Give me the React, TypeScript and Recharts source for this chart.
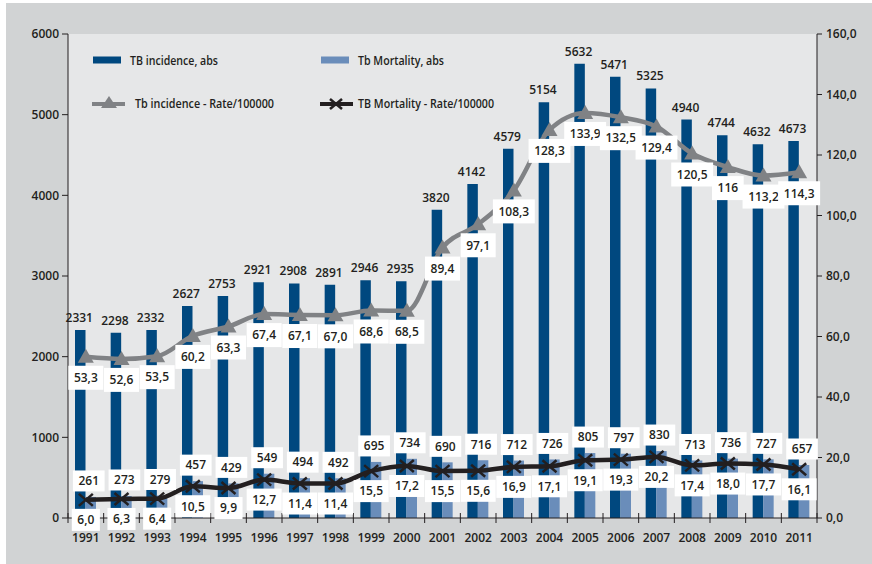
import React from 'react';
import { ComposedChart, Bar, Line, XAxis, YAxis, CartesianGrid, LabelList, Legend } from 'recharts';

const years = ['1991','1992','1993','1994','1995','1996','1997','1998','1999','2000','2001','2002','2003','2004','2005','2006','2007','2008','2009','2010','2011'];
const incidenceAbs = [2331, 2298, 2332, 2627, 2753, 2921, 2908, 2891, 2946, 2935, 3820, 4142, 4579, 5154, 5632, 5471, 5325, 4940, 4744, 4632, 4673];
const mortalityAbs = [261, 273, 279, 457, 429, 549, 494, 492, 695, 734, 690, 716, 712, 726, 805, 797, 830, 713, 736, 727, 657];
const incidenceRateText = ['53,3','52,6','53,5','60,2','63,3','67,4','67,1','67,0','68,6','68,5','89,4','97,1','108,3','128,3','133,9','132,5','129,4','120,5','116','113,2','114,3'];
const mortalityRateText = ['6,0','6,3','6,4','10,5','9,9','12,7','11,4','11,4','15,5','17,2','15,5','15,6','16,9','17,1','19,1','19,3','20,2','17,4','18,0','17,7','16,1'];
const leftTicks = [0, 1000, 2000, 3000, 4000, 5000, 6000];
const rightTicks = [0, 20, 40, 60, 80, 100, 120, 140, 160];

const parseNum = (s: string) => parseFloat(s.replace(',', '.'));

const data = years.map((y, i) => ({
  year: y,
  incAbs: incidenceAbs[i],
  mortAbs: mortalityAbs[i],
  incRate: parseNum(incidenceRateText[i]),
  incRateLabel: incidenceRateText[i],
  mortRate: parseNum(mortalityRateText[i]),
  mortRateLabel: mortalityRateText[i],
}));

const W = 866;
const H = 561;
const LEFT_W = 62;
const RIGHT_W = 55;
const BAND = (W - LEFT_W - RIGHT_W) / years.length;

const FONT = "'Open Sans', 'Noto Sans', sans-serif";
const FS = 12;
const TXT = '#231f20';
const DARK = '#00487f';
const LIGHT = '#6a8dba';
const GRAY = '#808285';
const BLACK = '#231f20';

const textW = (s: string) => {
  let w = 0;
  for (const c of s) w += c === ',' ? 3.3 : 6.9;
  return w;
};

const Box = ({ cx, cy, text, h }: { cx: number; cy: number; text: string; h: number }) => {
  const w = textW(text) + 11;
  return (
    <g>
      <rect x={cx - w / 2} y={cy - h / 2} width={w} height={h} fill="#ffffff" />
      <text x={cx} y={cy + 4.3} textAnchor="middle" fontSize={FS} fontWeight={600} fill={TXT} fontFamily={FONT}>
        {text}
      </text>
    </g>
  );
};

const IncAbsLabel = (p: any) => (
  <text x={p.x + p.width / 2 - 1} y={p.y - 8} textAnchor="middle" fontSize={FS} fontWeight={600} fill={TXT} fontFamily={FONT}>
    {p.value}
  </text>
);

const MortAbsLabel = (p: any) => <Box cx={p.x + p.width / 2 - 2} cy={p.y - 16} text={String(p.value)} h={21} />;

const IncRateLabel = (p: any) => <Box cx={p.x} cy={p.y + 21} text={String(p.value)} h={24} />;
const MortRateLabel = (p: any) => <Box cx={p.x} cy={p.y + 20} text={String(p.value)} h={22} />;

const Triangle = (p: any) => {
  const { cx, cy, index } = p;
  if (cx == null || cy == null) return <g key={`t${index}`} />;
  return <path key={`t${index}`} d={`M${cx},${cy - 8} L${cx + 8},${cy + 6} L${cx - 8},${cy + 6} Z`} fill={GRAY} />;
};

const Cross = (p: any) => {
  const { cx, cy, index } = p;
  if (cx == null || cy == null) return <g key={`x${index}`} />;
  return (
    <g key={`x${index}`}>
      <line x1={cx - 7} y1={cy - 6} x2={cx + 7} y2={cy + 6} stroke={BLACK} strokeWidth={2.5} />
      <line x1={cx - 7} y1={cy + 6} x2={cx + 7} y2={cy - 6} stroke={BLACK} strokeWidth={2.5} />
    </g>
  );
};

const YearTick = (p: any) => {
  const { x, y, payload, index } = p;
  return (
    <g>
      <line x1={x - BAND / 2} y1={y - 5} x2={x - BAND / 2} y2={y + 5} stroke={TXT} strokeWidth={1} />
      {index === years.length - 1 && (
        <line x1={x + BAND / 2} y1={y - 5} x2={x + BAND / 2} y2={y + 5} stroke={TXT} strokeWidth={1} />
      )}
      <text x={x} y={y + 24} textAnchor="middle" fontSize={FS} fontWeight={600} fill={TXT} fontFamily={FONT}>
        {payload.value}
      </text>
    </g>
  );
};

const legendText = { fontSize: 12.5, fontWeight: 600, fill: TXT, fontFamily: FONT, lengthAdjust: 'spacingAndGlyphs' } as const;

const LegendContent = () => (
  <svg width={W} height={120} style={{ display: 'block' }}>
    <rect x={87} y={53.5} width={28} height={7} fill={DARK} />
    <text x={124} y={61.5} textLength={88} {...legendText}>TB incidence, abs</text>
    <rect x={315} y={53.5} width={28} height={7} fill={LIGHT} />
    <text x={352} y={61.5} textLength={86} {...legendText}>Tb Mortality, abs</text>

    <line x1={86} y1={101} x2={119} y2={101} stroke={GRAY} strokeWidth={4} />
    <path d="M103,93 L111,105 L95,105 Z" fill={GRAY} />
    <text x={129} y={104.5} textLength={139} {...legendText}>Tb incidence - Rate/100000</text>
    <line x1={314} y1={101} x2={347} y2={101} stroke={BLACK} strokeWidth={4} />
    <line x1={324} y1={96} x2={336} y2={106} stroke={BLACK} strokeWidth={2.5} />
    <line x1={324} y1={106} x2={336} y2={96} stroke={BLACK} strokeWidth={2.5} />
    <text x={352} y={104.5} textLength={136} {...legendText}>TB Mortality - Rate/100000</text>
  </svg>
);

export default function App() {
  return (
    <div style={{ position: 'absolute', left: 6, top: 3, width: W, height: H, background: '#d1d3d4' }}>
      <ComposedChart
        width={W}
        height={H}
        data={data}
        margin={{ top: 31, right: 0, bottom: 16, left: 0 }}
        barGap={0}
        barSize={10.5}
        style={{ fontFamily: FONT }}
      >
        <CartesianGrid fill="#e6e7e8" horizontal={false} vertical={false} />
        <XAxis
          dataKey="year"
          height={30}
          tickSize={0}
          tickMargin={0}
          tickLine={false}
          tick={<YearTick />}
          axisLine={{ stroke: TXT, strokeWidth: 1 }}
          interval={0}
        />
        <YAxis
          yAxisId="left"
          width={LEFT_W}
          domain={[0, 6000]}
          ticks={leftTicks}
          tickSize={6}
          tickMargin={3}
          axisLine={{ stroke: TXT, strokeWidth: 1 }}
          tickLine={{ stroke: TXT, strokeWidth: 1 }}
          tick={{ fontSize: FS, fontWeight: 600, fill: TXT, fontFamily: FONT }}
        />
        <YAxis
          yAxisId="right"
          orientation="right"
          width={RIGHT_W}
          domain={[0, 160]}
          ticks={rightTicks}
          tickFormatter={(v: number) => v.toFixed(1).replace('.', ',')}
          tickSize={5}
          tickMargin={4}
          axisLine={{ stroke: TXT, strokeWidth: 1 }}
          tickLine={{ stroke: TXT, strokeWidth: 1 }}
          tick={{ fontSize: FS, fontWeight: 600, fill: TXT, fontFamily: FONT }}
        />
        <Legend
          layout="vertical"
          verticalAlign="middle"
          align="center"
          content={<LegendContent />}
          wrapperStyle={{ left: 0, top: 0, width: W, height: 120, pointerEvents: 'none' }}
        />
        <Bar yAxisId="left" dataKey="incAbs" name="TB incidence, abs" fill={DARK} isAnimationActive={false}>
          <LabelList dataKey="incAbs" content={<IncAbsLabel />} />
        </Bar>
        <Bar yAxisId="left" dataKey="mortAbs" name="Tb Mortality, abs" fill={LIGHT} isAnimationActive={false}>
          <LabelList dataKey="mortAbs" content={<MortAbsLabel />} />
        </Bar>
        <Line
          yAxisId="right"
          type="monotone"
          dataKey="incRate"
          name="Tb incidence - Rate/100000"
          stroke={GRAY}
          strokeWidth={4.5}
          dot={Triangle}
          activeDot={false}
          isAnimationActive={false}
        >
          <LabelList dataKey="incRateLabel" content={<IncRateLabel />} />
        </Line>
        <Line
          yAxisId="right"
          type="monotone"
          dataKey="mortRate"
          name="TB Mortality - Rate/100000"
          stroke={BLACK}
          strokeWidth={4.5}
          dot={Cross}
          activeDot={false}
          isAnimationActive={false}
        >
          <LabelList dataKey="mortRateLabel" content={<MortRateLabel />} />
        </Line>
      </ComposedChart>
    </div>
  );
}
